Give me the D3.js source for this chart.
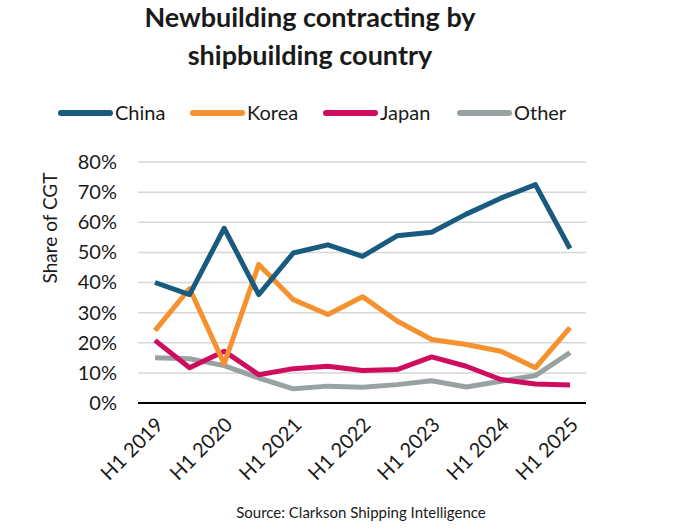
<!DOCTYPE html>
<html>
<head>
<meta charset="utf-8">
<script src="https://cdn.jsdelivr.net/npm/d3@7"></script>
<style>
    body { margin: 0; background: #fff; }
    text { font-family: Lato, 'Open Sans', sans-serif; fill: #1a1a1a; }
</style>
</head>
<body>
<div id="chart"></div>
<script>
const periods = [
    'H1 2019', 'H2 2019', 'H1 2020', 'H2 2020', 'H1 2021', 'H2 2021', 'H1 2022',
    'H2 2022', 'H1 2023', 'H2 2023', 'H1 2024', 'H2 2024', 'H1 2025'
];
const china = [40, 36, 58, 36, 49.8, 52.5, 48.7, 55.5, 56.7, 62.7, 68, 72.5, 51.3];
const korea = [24, 38, 13, 46, 34.3, 29.4, 35.3, 27.2, 21.1, 19.4, 17.2, 11.7, 25];
const japan = [20.8, 11.7, 17.2, 9.4, 11.4, 12.2, 10.8, 11.1, 15.3, 12.2, 7.8, 6.3, 6];
const other = [15, 14.7, 12.4, 8.3, 4.7, 5.6, 5.2, 6.1, 7.4, 5.3, 7.2, 9.1, 16.7];
const seriesNames = ['China', 'Korea', 'Japan', 'Other'];
const yTicks = [0, 10, 20, 30, 40, 50, 60, 70, 80];
const xTickLabels = ['H1 2019', 'H1 2020', 'H1 2021', 'H1 2022', 'H1 2023', 'H1 2024', 'H1 2025'];

const colors = {
    China: '#185b7e',
    Korea: '#f5912e',
    Japan: '#cf0d5f',
    Other: '#99a2a2'
};

const width = 681;
const height = 532;
const margins = { top: 162, bottom: 129, left: 138, right: 95 };

const svg = d3.select('#chart')
    .append('svg')
    .attr('width', width)
    .attr('height', height);

//title
const title = svg.append('text')
    .attr('x', 310)
    .attr('text-anchor', 'middle')
    .style('font-weight', 'bold')
    .style('font-size', '27px');
title.append('tspan').attr('x', 310).attr('y', 27).text('Newbuilding contracting by');
title.append('tspan').attr('x', 310).attr('y', 65).text('shipbuilding country');

//legend
const legendX = [58, 190, 323, 457];
const legend = svg.append('g')
    .selectAll('g')
    .data(seriesNames)
    .join('g')
    .attr('transform', (d, i) => `translate(${legendX[i]},113)`);
legend.append('line')
    .attr('x1', 3)
    .attr('x2', 52)
    .attr('stroke', d => colors[d])
    .attr('stroke-width', 6)
    .attr('stroke-linecap', 'round');
legend.append('text')
    .attr('x', 57)
    .attr('dy', '0.35em')
    .style('font-size', '20px')
    .text(d => d);

//scales
const x = d3.scalePoint()
    .domain(periods)
    .range([155, 570]);
const y = d3.scaleLinear()
    .domain([0, 80])
    .range([height - margins.bottom, margins.top]);

//grid lines
svg.append('g')
    .selectAll('line')
    .data(yTicks.filter(d => d > 0))
    .join('line')
    .attr('x1', margins.left)
    .attr('x2', width - margins.right)
    .attr('y1', d => y(d))
    .attr('y2', d => y(d))
    .attr('stroke', '#d6d6d6')
    .attr('stroke-width', 1.5);

//y axis
const yAxis = svg.append('g')
    .attr('transform', `translate(${margins.left},0)`)
    .call(d3.axisLeft(y).tickValues(yTicks).tickSize(0).tickPadding(21).tickFormat(d => d + '%'));
yAxis.select('.domain').remove();
yAxis.selectAll('text')
    .style('font-size', '20px')
    .attr('fill', '#1a1a1a');

svg.append('text')
    .attr('transform', `translate(57,228) rotate(-90)`)
    .attr('text-anchor', 'middle')
    .style('font-size', '19px')
    .text('Share of CGT');

//lines
const line = d3.line()
    .x((d, i) => x(periods[i]))
    .y(d => y(d))
    .curve(d3.curveLinear);
const seriesData = [other, japan, korea, china];
const seriesOrder = ['Other', 'Japan', 'Korea', 'China'];
svg.append('g')
    .selectAll('path')
    .data(seriesData)
    .join('path')
    .attr('d', line)
    .attr('fill', 'none')
    .attr('stroke', (d, i) => colors[seriesOrder[i]])
    .attr('stroke-width', 5)
    .attr('stroke-linejoin', 'round');

//x axis
const xAxis = svg.append('g')
    .attr('transform', `translate(0,${height - margins.bottom})`)
    .call(d3.axisBottom(x)
        .tickValues(xTickLabels)
        .tickSize(0)
        .tickPadding(0));
xAxis.select('.domain').remove();
xAxis.append('line')
    .attr('x1', margins.left)
    .attr('x2', width - margins.right)
    .attr('stroke', '#000')
    .attr('stroke-width', 2);
xAxis.selectAll('text')
    .style('font-size', '20px')
    .attr('fill', '#1a1a1a')
    .attr('text-anchor', 'end')
    .attr('dy', 0)
    .attr('transform', 'translate(9,23) rotate(-45)');

//source
svg.append('text')
    .attr('x', 361)
    .attr('y', 518)
    .attr('text-anchor', 'middle')
    .style('font-size', '15px')
    .attr('fill', '#333')
    .text('Source: Clarkson Shipping Intelligence');
</script>
</body>
</html>
